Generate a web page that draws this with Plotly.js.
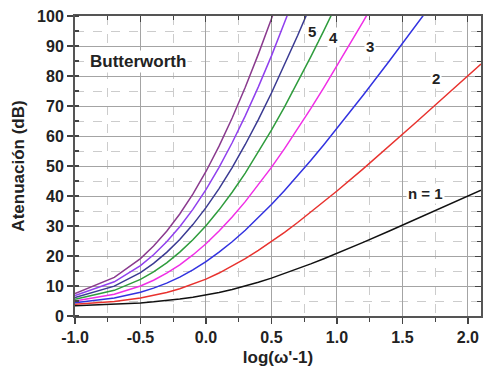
<!DOCTYPE html>
<html>
<head>
<meta charset="utf-8">
<script src="https://cdn.plot.ly/plotly-3.0.1.min.js"></script>
<style>html,body{margin:0;padding:0;background:#fff;}#chart{width:484px;height:367px;}</style>
</head>
<body>
<div id="chart"></div>
<script>
// log(w'-1) sample positions
const xVals = [-1.0, -0.7, -0.5, -0.4, -0.3, -0.2, -0.1, 0.0, 0.1, 0.2, 0.3, 0.4, 0.5, 0.6, 0.7, 0.8, 0.9, 1.0, 1.2, 1.4, 1.6, 1.8, 2.0, 2.1];
// Attenuation (dB) per order n
const n1 = [3.44, 3.87, 4.37, 4.71, 5.12, 5.64, 6.25, 6.99, 7.86, 8.86, 9.99, 11.25, 12.63, 14.12, 15.70, 17.36, 19.08, 20.86, 24.55, 28.35, 32.22, 36.14, 40.09, 41.90];
const n2 = [3.92, 4.87, 6.02, 6.83, 7.84, 9.07, 10.56, 12.30, 14.32, 16.59, 19.11, 21.85, 24.79, 27.90, 31.17, 34.56, 38.06, 41.66, 49.06, 56.68, 64.43, 72.27, 80.17, 84.00];
const n3 = [4.43, 6.00, 7.92, 9.28, 10.95, 12.97, 15.36, 18.13, 21.27, 24.76, 28.59, 32.74, 37.16, 41.84, 46.74, 51.83, 57.09, 62.48, 73.59, 85.02, 96.65, 108.41];
const n4 = [4.97, 7.23, 10.00, 11.93, 14.28, 17.08, 20.35, 24.10, 28.32, 33.00, 38.12, 43.64, 49.55, 55.79, 62.32, 69.11, 76.12, 83.31, 98.13, 113.36];
const n5 = [5.56, 8.55, 12.20, 14.70, 17.72, 21.28, 25.40, 30.11, 35.39, 41.25, 47.64, 54.55, 61.93, 69.73, 77.90, 86.39, 95.15, 104.14];
const n6 = [6.17, 9.95, 14.48, 17.54, 21.21, 25.51, 30.47, 36.13, 42.47, 49.49, 57.17, 65.47, 74.32, 83.68, 93.48, 103.67];
const n7 = [6.81, 11.39, 16.80, 20.42, 24.72, 29.75, 35.55, 42.15, 49.55, 57.74, 66.70, 76.38, 86.71, 97.63, 109.06];
const n8 = [7.48, 12.87, 19.15, 23.31, 28.24, 33.99, 40.62, 48.17, 56.62, 65.99, 76.23, 87.29, 99.09, 111.57];

const series = [n1, n2, n3, n4, n5, n6, n7, n8];
const colors = ['#111111', '#e8322e', '#3232e0', '#f02ee6', '#2e9c3c', '#3a3a92', '#9040ee', '#8a3a8e'];

const labelText = ['n = 1', '2', '3', '4', '5'];
const labelX = [1.68, 1.755, 1.25, 0.97, 0.81];
const labelY = [41, 79.3, 89.7, 93, 94.7];

const traces = series.map((ys, i) => ({
  x: xVals.slice(0, ys.length),
  y: ys,
  type: 'scatter',
  mode: 'lines',
  line: {color: colors[i], width: 1.5, shape: 'linear'},
  showlegend: false,
  hoverinfo: 'skip'
}));
// invisible helper trace so the mirrored top/right axes are drawn
traces.push({x: [null], y: [null], xaxis: 'x2', yaxis: 'y2', type: 'scatter', mode: 'lines', showlegend: false, hoverinfo: 'skip'});

const fam = 'Liberation Sans, Arial, sans-serif';
const annotations = labelText.map((t, i) => ({
  x: labelX[i], y: labelY[i], xref: 'x', yref: 'y',
  text: t, showarrow: false, bgcolor: '#ffffff', borderpad: 1,
  font: {family: fam, size: 15, color: '#222', weight: 'bold'}
}));
annotations.push({
  x: -0.90, y: 85, xref: 'x', yref: 'y', xanchor: 'left',
  text: 'Butterworth', showarrow: false, bgcolor: '#ffffff', borderpad: 1,
  font: {family: fam, size: 17, color: '#222', weight: 'bold'}
});

const tickFont = {family: fam, size: 16, color: '#222', weight: 'bold'};

const layout = {
  width: 484, height: 367,
  margin: {l: 75, r: 3, t: 16, b: 51},
  paper_bgcolor: '#ffffff', plot_bgcolor: '#ffffff',
  annotations: annotations,
  xaxis: {
    range: [-1.0, 2.1], tickmode: 'array',
    tickvals: [-1.0, -0.5, 0.0, 0.5, 1.0, 1.5, 2.0],
    ticktext: ['-1.0', '-0.5', '0.0', '0.5', '1.0', '1.5', '2.0'],
    ticks: 'outside', ticklen: 6, tickwidth: 1.2, tickcolor: '#444',
    showline: true, linecolor: '#555', linewidth: 2, mirror: true,
    showgrid: true, gridcolor: '#a4a4a4', gridwidth: 1,
    zeroline: false,
    minor: {dtick: 0.25, tick0: -1, ticks: 'outside', ticklen: 4, tickcolor: '#444', showgrid: true, gridcolor: '#cccccc', griddash: 'dash', gridwidth: 1},
    tickfont: tickFont,
    title: {text: "log(\u03c9'-1)", font: {family: fam, size: 17, color: '#222', weight: 'bold'}, standoff: 6}
  },
  yaxis: {
    range: [0, 100], tickmode: 'linear', tick0: 0, dtick: 10,
    ticks: 'outside', ticklen: 6, tickwidth: 1.2, tickcolor: '#444',
    showline: true, linecolor: '#555', linewidth: 2, mirror: true,
    showgrid: true, gridcolor: '#a4a4a4', gridwidth: 1,
    zeroline: false,
    minor: {dtick: 5, tick0: 0, ticks: 'inside', ticklen: 4, tickcolor: '#444', showgrid: true, gridcolor: '#cccccc', griddash: 'dash', gridwidth: 1},
    tickfont: tickFont,
    title: {text: 'Atenuación (dB)', font: {family: fam, size: 17, color: '#222', weight: 'bold'}, standoff: 8}
  },
  xaxis2: {
    overlaying: 'x', side: 'top', range: [-1.0, 2.1], dtick: 0.5, tick0: -1,
    ticks: 'inside', ticklen: 6, tickcolor: '#444', showticklabels: false,
    showgrid: false, zeroline: false, showline: false,
    minor: {dtick: 0.25, tick0: -1, ticks: 'inside', ticklen: 4, tickcolor: '#444', showgrid: false}
  },
  yaxis2: {
    overlaying: 'y', side: 'right', range: [0, 100], dtick: 10, tick0: 0,
    ticks: 'inside', ticklen: 6, tickcolor: '#444', showticklabels: false,
    showgrid: false, zeroline: false, showline: false,
    minor: {dtick: 5, tick0: 0, ticks: 'inside', ticklen: 4, tickcolor: '#444', showgrid: false}
  }
};

Plotly.newPlot('chart', traces, layout, {staticPlot: true, displayModeBar: false});
</script>
</body>
</html>
